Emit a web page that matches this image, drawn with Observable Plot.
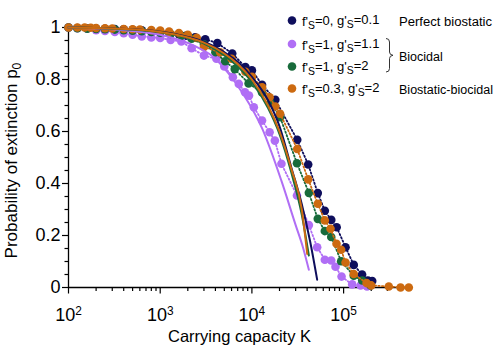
<!DOCTYPE html>
<html><head><meta charset="utf-8">
<script src="https://cdn.jsdelivr.net/npm/d3@7"></script>
<script src="https://cdn.jsdelivr.net/npm/@observablehq/plot@0.6"></script>
<style>
body{margin:0;background:#fff;}
svg{font-family:"Liberation Sans",Arial,sans-serif;}
</style></head><body>
<script>
// ---- series meta ----
const seriesF = ["0", "1", "1", "0.3"];
const seriesG = ["0.1", "1.1", "2", "2"];
const seriesColors = ["#0e0e5c", "#b06ef5", "#186b3b", "#cc6a10"];
const groupLabels = ["Perfect biostatic", "Biocidal", "Biostatic-biocidal"];

// ---- simulation points (K, p0) ----
const simK_navy = [100,125,160,200,250,320,400,500,630,800,1000,1260,1600,1900,2400,3100,4200,6100,8500,10000,12900,18000,31200,41100,52300,62400,73300,84000,105000,129000,159000,184000,205000];
const simP_navy = [1.0,0.998,0.997,0.996,0.995,0.994,0.993,0.991,0.989,0.987,0.984,0.98,0.974,0.968,0.962,0.955,0.94,0.9,0.848,0.835,0.78,0.722,0.568,0.473,0.363,0.295,0.26,0.232,0.155,0.087,0.05,0.027,0.025];

const simK_purple = [100,125,160,200,250,320,400,500,630,800,1000,1300,1700,2200,3000,4100,5000,6200,7200,8400,9300,10500,12900,15600,17800,21000,31000,41800,51500,62400,73300,81600,95000,124000,153000,180000];
const simP_purple = [1.0,0.997,0.995,0.99,0.987,0.983,0.978,0.972,0.966,0.962,0.96,0.952,0.946,0.92,0.892,0.88,0.85,0.809,0.783,0.751,0.738,0.693,0.642,0.597,0.565,0.476,0.354,0.24,0.155,0.107,0.104,0.08,0.042,0.012,0.008,0.004];

const simK_green = [100,125,160,200,250,320,400,500,630,800,1000,1300,1700,2200,3000,4000,5100,6500,9200,12900,15900,20300,31000,41800,52300,62400,73300,94000,129000,159500,197000];
const simP_green = [1.0,0.997,0.995,0.994,0.993,0.992,0.99,0.988,0.986,0.983,0.98,0.975,0.968,0.957,0.935,0.905,0.87,0.84,0.785,0.75,0.71,0.655,0.478,0.364,0.264,0.217,0.194,0.101,0.045,0.027,0.008];

const simK_orange = [100,125,150,175,200,250,300,400,500,600,800,1000,1250,1600,2000,2500,3000,4500,6000,8500,10000,12900,15600,18000,20300,31200,41100,52300,62400,72000,83700,94000,105000,129000,178000,200000,311000,418000,514000];
const simP_orange = [1.0,1.0,1.0,0.999,0.998,0.997,0.996,0.994,0.993,0.992,0.99,0.988,0.984,0.979,0.972,0.96,0.925,0.905,0.88,0.83,0.81,0.77,0.732,0.696,0.668,0.533,0.416,0.322,0.258,0.226,0.168,0.145,0.096,0.052,0.017,0.008,0.004,0.0,0.0];

// ---- theory curves (K, p0) ----
const thK_navy = [100,300,1000,2000,3000,5000,7000,10000,15000,20000,27000,35000,43000,51500];
const thP_navy = [1.0,0.996,0.984,0.964,0.945,0.905,0.868,0.81,0.72,0.62,0.46,0.32,0.18,0.03];
const thK_purple = [100,300,1000,2400,4000,5500,8000,13000,21000,30000,36000,41800];
const thP_purple = [1.0,0.993,0.972,0.928,0.88,0.825,0.745,0.61,0.41,0.24,0.155,0.068];
const thK_green = [100,300,1000,2000,3000,5000,7000,10000,15000,20000,27000,35000,41800];
const thP_green = [1.0,0.995,0.982,0.96,0.938,0.893,0.85,0.79,0.69,0.59,0.44,0.28,0.123];
const thK_orange = [100,300,1000,2000,3000,5000,7000,10000,15000,20000,27000,35000,40100];
const thP_orange = [1.0,0.996,0.983,0.962,0.942,0.9,0.86,0.8,0.70,0.60,0.455,0.3,0.129];

// ---- ticks ----
const xTickValues = [100, 1000, 10000, 100000];
const xTickExponents = ["2", "3", "4", "5"];
const xMinorTicks = [200,300,400,500,600,700,800,900,2000,3000,4000,5000,6000,7000,8000,9000,20000,30000,40000,50000,60000,70000,80000,90000,200000,300000,400000,500000];
const yTickValues = [0, 0.2, 0.4, 0.6, 0.8, 1];
const yTickLabels = ["0", "0.2", "0.4", "0.6", "0.8", "1"];
const yMinorTicks = [0.05,0.1,0.15,0.25,0.3,0.35,0.45,0.5,0.55,0.65,0.7,0.75,0.85,0.9,0.95];

const zip = (K, P) => K.map((k, i) => ({K: k, p: P[i]}));
const sims = [zip(simK_navy, simP_navy), zip(simK_purple, simP_purple), zip(simK_green, simP_green), zip(simK_orange, simP_orange)];
const theo = [zip(thK_navy, thP_navy), zip(thK_purple, thP_purple), zip(thK_green, thP_green), zip(thK_orange, thP_orange)];

const simMarks = [];
sims.forEach((d, i) => {
  simMarks.push(Plot.line(d, {x: "K", y: "p", stroke: seriesColors[i], strokeWidth: 1.8, strokeDasharray: "1.4,2.2"}));
  simMarks.push(Plot.dot(d, {x: "K", y: "p", fill: seriesColors[i], r: 4.3}));
});
const theoMarks = theo.map((d, i) => Plot.line(d, {x: "K", y: "p", stroke: seriesColors[i], strokeWidth: 2, curve: "monotone-x"}));

const plot = Plot.plot({
  width: 498, height: 349,
  marginLeft: 68, marginRight: 87, marginTop: 27, marginBottom: 62,
  x: {type: "log", domain: [100, 5.5e5]},
  y: {domain: [0, 1]},
  style: {fontFamily: "'Liberation Sans', Arial, sans-serif", fontSize: "18px", color: "#000", background: "#fff", overflow: "visible"},
  marks: [
    Plot.axisX(xTickValues, {tickSize: 6.5, tickPadding: 14, strokeWidth: 1.2, fontSize: 18, tickFormat: (d) => "10^" + xTickExponents[xTickValues.indexOf(d)], label: null}),
    Plot.axisX(xMinorTicks, {tickSize: 4, strokeWidth: 1.2, tickFormat: () => "", label: null}),
    Plot.axisY(yTickValues, {tickSize: 6, tickPadding: 2, strokeWidth: 1.2, fontSize: 18, tickFormat: (d) => yTickLabels[yTickValues.indexOf(d)], label: null}),
    Plot.axisY(yMinorTicks, {tickSize: 3.5, strokeWidth: 1.2, tickFormat: () => "", label: null}),
    Plot.ruleY([0], {stroke: "#000", strokeWidth: 1.3}),
    Plot.ruleX([100], {stroke: "#000", strokeWidth: 1.3}),
    ...simMarks,
    ...theoMarks
  ]
});
document.body.appendChild(plot);

const svg = d3.select(plot);
// superscript tick labels
svg.selectAll("text").each(function() {
  const t = d3.select(this);
  const m = t.text().match(/^10\^(\d)$/);
  if (m) {
    t.text("");
    t.append("tspan").text("10");
    t.append("tspan").attr("dy", "-0.5em").attr("font-size", "0.66em").text(m[1]);
  }
});

// axis titles
const yt = svg.append("text").attr("transform", "translate(17,160.5) rotate(-90)")
  .attr("text-anchor", "middle").attr("font-size", 17).attr("fill", "#000");
yt.append("tspan").text("Probability of extinction p");
yt.append("tspan").attr("dy", "0.3em").attr("font-size", "0.72em").text("0");

svg.append("text").attr("x", 239.5).attr("y", 342).attr("text-anchor", "middle")
  .attr("font-size", 16.5).attr("fill", "#000").text("Carrying capacity K");

// legend
const rowY = [20.5, 44, 66.5, 88.5];
const lg = svg.append("g").attr("font-size", 12.5).attr("fill", "#000").attr("text-anchor", "start");
seriesColors.forEach((c, i) => {
  lg.append("circle").attr("cx", 292).attr("cy", rowY[i]).attr("r", 4.3).attr("fill", c);
  const tx = lg.append("text").attr("x", 302).attr("y", rowY[i] + 5.5).attr("font-size", 13);
  tx.append("tspan").text("f'");
  tx.append("tspan").attr("dy", "0.32em").attr("font-size", "0.8em").text("S");
  tx.append("tspan").attr("dy", "-0.32em").text("=" + seriesF[i] + ", g'");
  tx.append("tspan").attr("dy", "0.32em").attr("font-size", "0.8em").text("S");
  tx.append("tspan").attr("dy", "-0.32em").text("=" + seriesG[i]);
});
lg.append("text").attr("x", 399).attr("y", rowY[0] + 5.5).attr("textLength", 93).attr("lengthAdjust", "spacingAndGlyphs").text(groupLabels[0]);
lg.append("text").attr("x", 399).attr("y", 61).text(groupLabels[1]);
lg.append("text").attr("x", 399).attr("y", rowY[3] + 5.5).attr("textLength", 94).attr("lengthAdjust", "spacingAndGlyphs").text(groupLabels[2]);
lg.append("path")
  .attr("d", "M386,38.5 Q389.5,38.5 389.5,42 L389.5,52 Q389.5,55 393,55.3 Q389.5,55.6 389.5,58.6 L389.5,68.5 Q389.5,72 386,72")
  .attr("fill", "none").attr("stroke", "#333").attr("stroke-width", 1);
</script>
</body></html>
